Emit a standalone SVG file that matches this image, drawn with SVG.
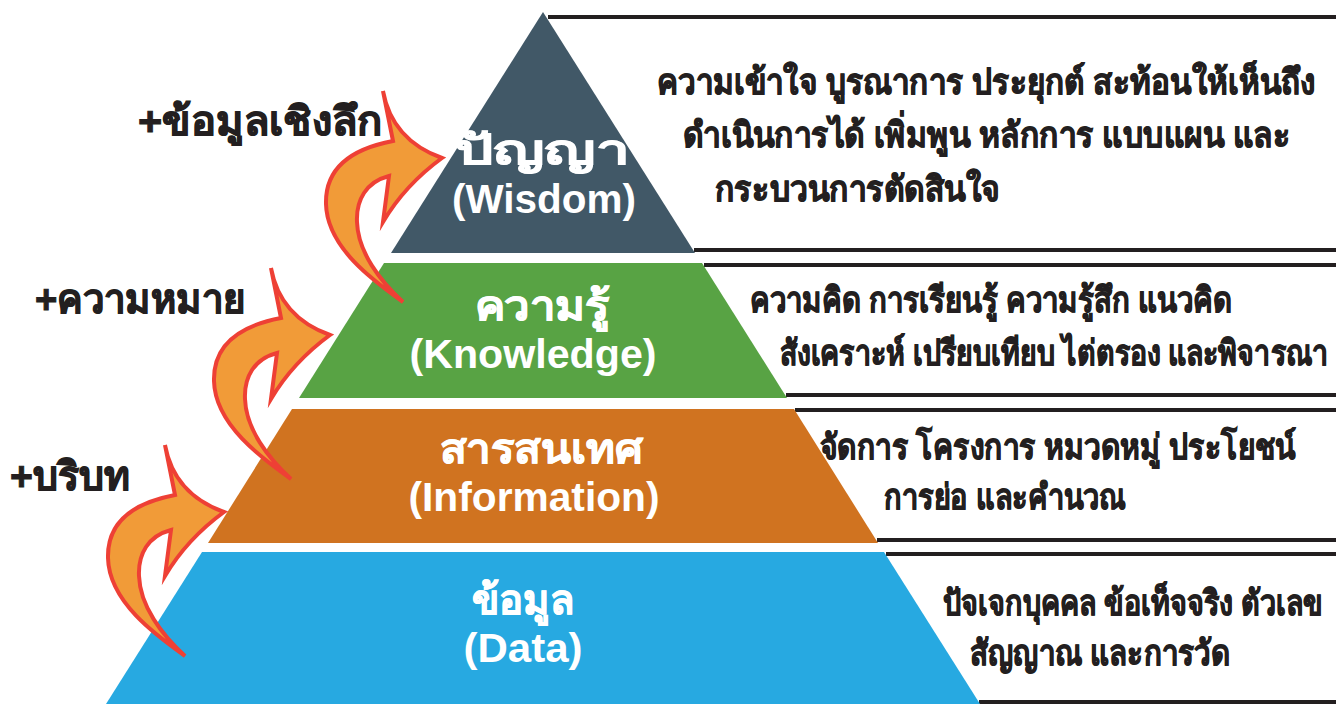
<svg xmlns="http://www.w3.org/2000/svg" xmlns:xlink="http://www.w3.org/1999/xlink" width="1336" height="704" viewBox="0 0 1336 704">
<style>
.band-label{font-family:"Liberation Sans","Noto Sans","DejaVu Sans",sans-serif;font-weight:bold;font-size:40px;fill:#ffffff;text-anchor:middle}
.band-thai{font-family:"Liberation Sans","Noto Sans","DejaVu Sans",sans-serif;font-weight:bold;font-size:41px;fill:#ffffff;stroke:#ffffff;stroke-width:0.8;text-anchor:middle}
.desc{font-family:"Liberation Sans","Noto Sans","DejaVu Sans",sans-serif;font-weight:bold;font-size:35px;fill:#231f20;stroke:#231f20;stroke-width:0.9}
.side{font-family:"Liberation Sans","Noto Sans","DejaVu Sans",sans-serif;font-weight:bold;font-size:40px;fill:#231f20;stroke:#231f20;stroke-width:1}
.rule{stroke:#231f20;stroke-width:4;fill:none}
.arrow{fill:#f19b38;stroke:#ee4035;stroke-width:4;stroke-linejoin:miter;stroke-miterlimit:10}
</style>
<defs>
<path id="curl" d="M403,302 C375,282 327,248 326,204 C325,165 356,148 393,141 L383,91 Q392,140 442,158 Q405,185 383,222 L389,176 C366,182 356,200 357,222 C358,252 380,281 403,302 Z"/>
</defs>
<rect width="1336" height="704" fill="#ffffff"/>
<g id="rules">
<line class="rule" x1="548" y1="17" x2="1336" y2="17"/>
<line class="rule" x1="694" y1="250" x2="1336" y2="250"/>
<line class="rule" x1="704" y1="265" x2="1336" y2="265"/>
<line class="rule" x1="786" y1="395" x2="1336" y2="395"/>
<line class="rule" x1="795" y1="410" x2="1336" y2="410"/>
<line class="rule" x1="877" y1="540" x2="1336" y2="540"/>
<line class="rule" x1="886" y1="554" x2="1336" y2="554"/>
<line class="rule" x1="979" y1="702" x2="1336" y2="702"/>
</g>
<g id="wisdom">
<polygon points="543,12 695,253 391,253" fill="#415867"/>
<text class="band-thai" x="542" y="164" textLength="175" lengthAdjust="spacingAndGlyphs">ปัญญา</text>
<text class="band-label" x="544" y="213" textLength="184" lengthAdjust="spacingAndGlyphs">(Wisdom)</text>
<text class="desc" transform="translate(657,94) scale(0.86,1)" textLength="766" lengthAdjust="spacingAndGlyphs">ความเข้าใจ บูรณาการ ประยุกต์ สะท้อนให้เห็นถึง</text>
<text class="desc" transform="translate(683,147) scale(0.86,1)" textLength="706" lengthAdjust="spacingAndGlyphs">ดำเนินการได้ เพิ่มพูน หลักการ แบบแผน และ</text>
<text class="desc" transform="translate(715,201) scale(0.86,1)" textLength="331" lengthAdjust="spacingAndGlyphs">กระบวนการตัดสินใจ</text>
</g>
<g id="knowledge">
<polygon points="384,263 702,263 787,398 299,398" fill="#58a344"/>
<text class="band-thai" x="542" y="320" textLength="135" lengthAdjust="spacingAndGlyphs">ความรู้</text>
<text class="band-label" x="533" y="368" textLength="247" lengthAdjust="spacingAndGlyphs">(Knowledge)</text>
<text class="desc" transform="translate(750,312) scale(0.86,1)" textLength="560" lengthAdjust="spacingAndGlyphs">ความคิด การเรียนรู้ ความรู้สึก แนวคิด</text>
<text class="desc" transform="translate(780,365) scale(0.8,1)" textLength="685" lengthAdjust="spacingAndGlyphs">สังเคราะห์ เปรียบเทียบ ไต่ตรอง และพิจารณา</text>
</g>
<g id="information">
<polygon points="292,409 794,409 878,543 208,543" fill="#d07320"/>
<text class="band-thai" x="541" y="463" textLength="203" lengthAdjust="spacingAndGlyphs">สารสนเทศ</text>
<text class="band-label" x="534" y="511" textLength="251" lengthAdjust="spacingAndGlyphs">(Information)</text>
<text class="desc" transform="translate(820,459) scale(0.86,1)" textLength="553" lengthAdjust="spacingAndGlyphs">จัดการ โครงการ หมวดหมู่ ประโยชน์</text>
<text class="desc" transform="translate(884,509) scale(0.86,1)" textLength="281" lengthAdjust="spacingAndGlyphs">การย่อ และคำนวณ</text>
</g>
<g id="data">
<polygon points="202,552 884,552 980,704 106,704" fill="#27a9e1"/>
<text class="band-thai" x="523" y="614" textLength="102" lengthAdjust="spacingAndGlyphs">ข้อมูล</text>
<text class="band-label" x="523" y="662" textLength="119" lengthAdjust="spacingAndGlyphs">(Data)</text>
<text class="desc" transform="translate(943,615) scale(0.8,1)" textLength="475" lengthAdjust="spacingAndGlyphs">ปัจเจกบุคคล ข้อเท็จจริง ตัวเลข</text>
<text class="desc" transform="translate(970,665) scale(0.86,1)" textLength="302" lengthAdjust="spacingAndGlyphs">สัญญาณ และการวัด</text>
</g>
<g id="side-labels">
<text class="side" transform="translate(138,135) scale(0.88,1)" textLength="278" lengthAdjust="spacingAndGlyphs">+ข้อมูลเชิงลึก</text>
<text class="side" transform="translate(35,313) scale(0.88,1)" textLength="239" lengthAdjust="spacingAndGlyphs">+ความหมาย</text>
<text class="side" transform="translate(10,490) scale(0.88,1)" textLength="136" lengthAdjust="spacingAndGlyphs">+บริบท</text>
</g>
<g id="connectors">
<use xlink:href="#curl" class="arrow"/>
<use xlink:href="#curl" class="arrow" transform="translate(-112,177)"/>
<use xlink:href="#curl" class="arrow" transform="translate(-218,354)"/>
</g>
</svg>
